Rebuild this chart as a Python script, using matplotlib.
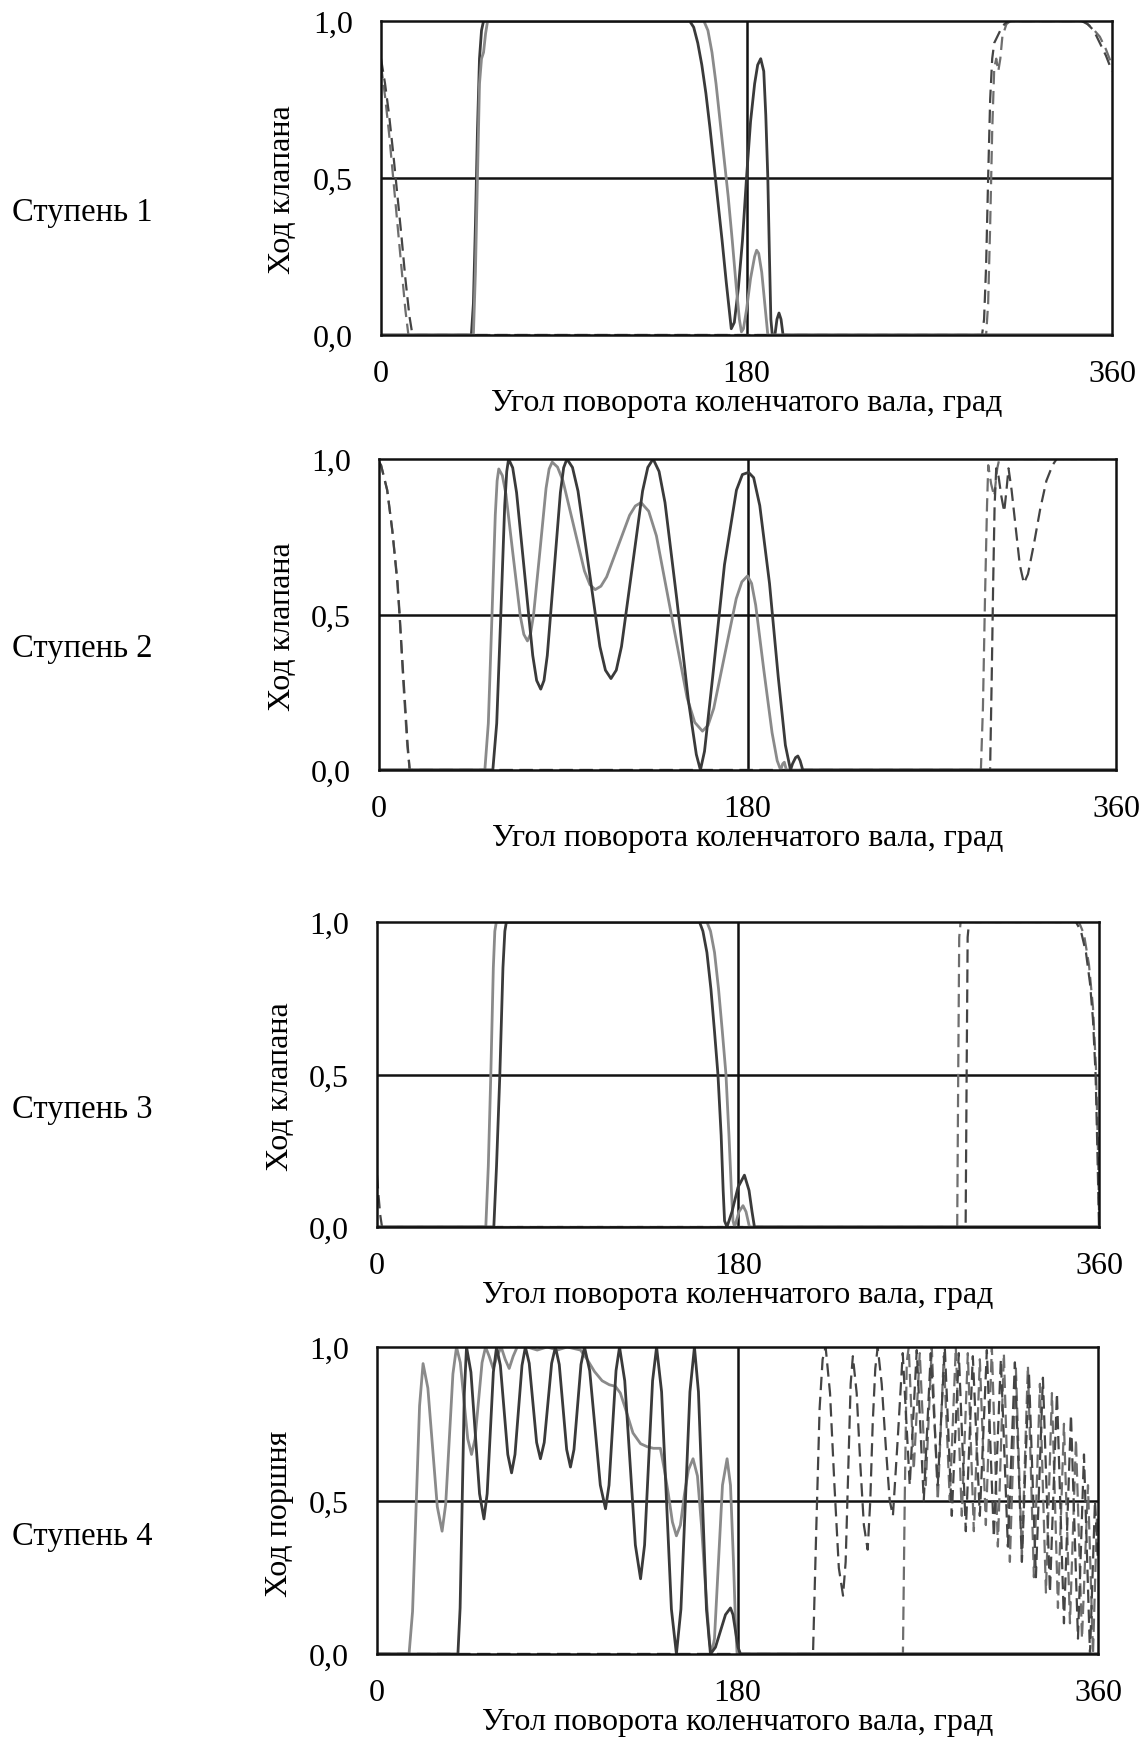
import matplotlib
matplotlib.use("Agg")
import matplotlib.pyplot as plt

plt.rcParams['font.family'] = ['Liberation Serif', 'DejaVu Serif']

W, H = 1145, 1740

#------------------------------- DATA (deg, lift 0..1) -------------------------------
stage_names = ["Ступень 1", "Ступень 2", "Ступень 3", "Ступень 4"]
y_names = ["Ход клапана", "Ход клапана", "Ход клапана", "Ход поршня"]
x_title = "Угол поворота коленчатого вала, град"
x_ticks = [0, 180, 360]
x_tick_labels = ["0", "180", "360"]
y_ticks = [0.0, 0.5, 1.0]
y_tick_labels = ["0,0", "0,5", "1,0"]

# stage 1
s1_dark_x = [0, 44.5, 45.5, 46.5, 47.5, 48.5, 49.5, 50.5, 152, 154, 156, 158, 160, 162, 164, 166, 168, 170,
             171.5, 172.5, 174, 176, 178, 180, 182, 184, 185.5, 187, 188.5, 189.5, 190.5, 191.3, 192, 192.7,
             194, 195, 196, 197, 198, 360]
s1_dark_y = [0, 0, 0.1, 0.35, 0.65, 0.88, 0.97, 1.0, 1.0, 0.98, 0.93, 0.86, 0.77, 0.66, 0.54, 0.42, 0.3, 0.17,
             0.08, 0.02, 0.04, 0.15, 0.3, 0.5, 0.68, 0.8, 0.86, 0.88, 0.84, 0.7, 0.5, 0.25, 0.05, 0,
             0, 0.05, 0.07, 0.05, 0, 0]
s1_gray_x = [0, 45.5, 46.5, 47.5, 48.5, 49.5, 50.5, 51.5, 52.5, 159, 161, 163, 165, 167, 169, 171, 173, 175,
             176.5, 177.5, 178.5, 180, 182, 184, 185, 186, 187.5, 189, 190.5, 360]
s1_gray_y = [0, 0, 0.2, 0.5, 0.8, 0.88, 0.9, 0.96, 1.0, 1.0, 0.97, 0.9, 0.8, 0.68, 0.56, 0.44, 0.3, 0.15,
             0.05, 0.01, 0.02, 0.08, 0.18, 0.25, 0.27, 0.26, 0.2, 0.1, 0, 0]
s1_dash_x = [0, 2, 4, 6, 8, 10, 12, 14, 15.5, 296, 297, 298, 299, 300, 301, 302, 303.5, 305, 307, 309, 345,
             348, 351, 354, 357, 360]
s1_dash_y = [0.88, 0.8, 0.7, 0.58, 0.45, 0.32, 0.18, 0.06, 0, 0, 0.05, 0.22, 0.5, 0.75, 0.88, 0.93, 0.95,
             0.97, 0.99, 1.0, 1.0, 0.99, 0.97, 0.93, 0.89, 0.84]
s1_dash2_x = [0, 2, 4, 6, 8, 10, 12, 13.5, 298, 299, 300, 301, 302, 303, 304, 305, 306, 308, 310, 346, 350,
              354, 357, 360]
s1_dash2_y = [0.86, 0.76, 0.64, 0.5, 0.36, 0.22, 0.08, 0, 0, 0.1, 0.35, 0.65, 0.85, 0.88, 0.84, 0.88, 0.95,
              0.99, 1.0, 1.0, 0.98, 0.95, 0.91, 0.86]

# stage 2
s2_dark_x = [0, 55.6, 57.5, 59.5, 61.4, 62.4, 63.3, 65.3, 67.2, 71.15, 75.1, 77.0, 79, 80.6, 82.2, 85.4, 88.6,
             90.2, 91.8, 94.5, 97.2, 102.55, 107.9, 110.6, 113.3, 115.9, 118.45, 123.6, 128.75, 131.3, 133.9,
             136.8, 139.7, 145.45, 151.2, 155, 157, 159, 163, 168.75, 174.6, 177.5, 180.5, 183, 186, 190.75,
             195, 198.5, 201, 202, 203.5, 204.6, 205.7, 207, 360]
s2_dark_y = [0, 0, 0.15, 0.5, 0.85, 0.96, 1.0, 0.972, 0.892, 0.63, 0.368, 0.288, 0.26, 0.288, 0.368, 0.63, 0.892,
             0.972, 1.0, 0.973, 0.897, 0.647, 0.397, 0.321, 0.294, 0.321, 0.397, 0.647, 0.897, 0.973, 1.0,
             0.96, 0.86, 0.55, 0.22, 0.05, 0, 0.06, 0.3, 0.66, 0.9, 0.95, 0.957, 0.94, 0.85, 0.6,
             0.3, 0.08, 0, 0.02, 0.04, 0.045, 0.03, 0, 0]
s2_gray_x = [0, 51.7, 53.4, 55.1, 56.8, 57.7, 58.5, 60.25, 62, 65.5, 69, 70.75, 72.5, 74.0, 75.5, 78.55, 81.6,
             83.1, 84.6, 87.2, 89.85, 95.1, 100.35, 103, 105.6, 108.4, 111.2, 116.8, 122.4, 125.2, 128,
             131.75, 135.5, 143, 150.5, 154.25, 158, 160.75, 163.5, 169, 174.5, 177.25, 180, 182, 184, 188,
             192, 194.5, 196.2, 197.2, 198, 199, 360]
s2_gray_y = [0, 0, 0.15, 0.48, 0.82, 0.93, 0.968, 0.947, 0.887, 0.69, 0.496, 0.436, 0.415, 0.437, 0.499, 0.70,
             0.906, 0.968, 0.99, 0.974, 0.93, 0.785, 0.64, 0.596, 0.58, 0.591, 0.621, 0.72, 0.819, 0.849, 0.86,
             0.832, 0.753, 0.4925, 0.232, 0.153, 0.125, 0.144, 0.198, 0.3745, 0.551, 0.605, 0.624, 0.6, 0.53,
             0.32, 0.12, 0.03, 0, 0.02, 0.025, 0, 0]
s2_dash_x = [0, 1, 4, 6.5, 9, 10, 12, 14, 15, 298.5, 299.3, 300, 300.7, 301.5, 302.5, 304, 305.4, 306.5, 307.5,
             309, 311, 313, 315, 317, 320, 323, 326, 329, 331, 360]
s2_dash_y = [0.99, 0.98, 0.9, 0.77, 0.6, 0.5, 0.29, 0.08, 0, 0, 0.3, 0.6, 0.85, 0.97, 0.95, 0.88, 0.83, 0.9,
             0.97, 0.9, 0.78, 0.66, 0.6, 0.63, 0.73, 0.84, 0.93, 0.98, 1.0, 1.0]
s2_dash2_x = [0, 1, 4, 6.5, 9, 10.1, 11.8, 13.8, 15, 294, 295, 296, 297, 297.6, 299, 300.5, 302, 303, 360]
s2_dash2_y = [0.99, 0.98, 0.9, 0.77, 0.61, 0.5, 0.29, 0.08, 0, 0, 0.2, 0.55, 0.85, 0.98, 0.92, 0.88, 0.97, 1.0, 1.0]

# stage 3
s3_dark_x = [0, 58.25, 59.6, 61.25, 62.8, 63.75, 64.5, 160.8, 162.5, 164.5, 166.5, 168.3, 170, 171.6, 172.6,
             173.3, 174.5, 177, 180, 183.2, 185.5, 187, 188.2, 360]
s3_dark_y = [0, 0, 0.2, 0.5, 0.85, 0.97, 1.0, 1.0, 0.97, 0.9, 0.78, 0.64, 0.5, 0.3, 0.12,
             0.02, 0, 0.05, 0.13, 0.17, 0.12, 0.05, 0, 0]
s3_gray_x = [0, 54.25, 55.5, 56.75, 58, 58.75, 59.5, 164.5, 166.3, 168.3, 170.3, 172.2, 174, 175.5, 176.7,
             177.5, 178.3, 180.5, 182.5, 184, 185.7, 360]
s3_gray_y = [0, 0, 0.2, 0.5, 0.85, 0.97, 1.0, 1.0, 0.97, 0.9, 0.78, 0.64, 0.5, 0.3, 0.12,
             0.02, 0, 0.05, 0.07, 0.05, 0, 0]
s3_dash_x = [0, 0.8, 1.6, 2.5, 293.5, 294, 294.5, 295.2, 348.5, 351, 353.5, 355.5, 357, 358.3, 359.2, 360]
s3_dash_y = [0.17, 0.1, 0.04, 0, 0, 0.5, 0.95, 1.0, 1.0, 0.97, 0.9, 0.8, 0.68, 0.5, 0.25, 0.0]
s3_dash2_x = [0, 289.3, 289.8, 290.3, 291, 350, 352.5, 355, 357, 358.5, 359.5, 360]
s3_dash2_y = [0, 0, 0.5, 0.95, 1.0, 1.0, 0.96, 0.86, 0.72, 0.52, 0.25, 0.05]

# stage 4
s4_dark_x = [0, 40.4, 41.5, 42.55, 43.6, 44.7, 46.9, 49.05, 51.2, 53.4, 55.0, 56.55, 58.1, 59.7, 61.6, 63.45,
             65.3, 67.2, 68.9, 70.65, 72.4, 74.1, 76, 77.85, 79.7, 81.6, 83.5, 85.35, 87.2, 89.1, 91, 92.85,
             94.7, 96.6, 98.35, 100.1, 101.85, 103.6, 106.2, 108.85, 111.5, 114.1, 115.85, 117.6, 119.35,
             121.1, 123.7, 126.35, 129, 131.6, 133.6, 135.6, 137.6, 139.6, 142.1, 144.55, 147, 149.5, 151.75,
             154, 156.25, 158.5, 160.5, 162.5, 164.5, 166.5, 169, 171.5, 174, 176.5, 177.75, 179, 180.25,
             181.5, 360]
s4_dark_y = [0, 0, 0.15, 0.5, 0.85, 1.0, 0.918, 0.72, 0.522, 0.44, 0.522, 0.72, 0.918, 1.0, 0.94, 0.795,
             0.65, 0.59, 0.65, 0.795, 0.94, 1.0, 0.947, 0.818, 0.689, 0.636, 0.689, 0.818, 0.947, 1.0, 0.943, 0.805,
             0.666, 0.609, 0.666, 0.805, 0.943, 1.0, 0.923, 0.737, 0.55, 0.473, 0.55, 0.737, 0.923,
             1.0, 0.89, 0.623, 0.355, 0.245, 0.355, 0.623, 0.89, 1.0, 0.854, 0.5, 0.146, 0, 0.146,
             0.5, 0.854, 1.0, 0.854, 0.5, 0.146, 0, 0.022, 0.075, 0.128, 0.15, 0.128, 0.075, 0.022,
             0, 0]
s4_gray_x = [0, 16, 17.75, 19.5, 21.25, 23, 25.4, 27.75, 30.1, 32.5, 34.3, 36.1, 37.9, 39.7, 41.6, 43.45, 45.3,
             47.2, 48.95, 50.7, 52.45, 54.2, 56, 58, 60, 62, 64, 66, 68, 70, 75, 80, 85, 90, 95, 101.6, 104.9,
             108.6, 112.4, 116, 119, 121.5, 124, 127.8, 131.6, 135, 138, 141.5, 143.5, 145.5, 147.5, 149.5,
             151.5, 153.5, 155.5, 157.8, 160, 162, 164, 166, 167, 168.5, 170.5, 172.5, 174.8, 176.5, 178,
             179, 179.8, 360]
s4_gray_y = [0, 0, 0.138, 0.473, 0.808, 0.946, 0.866, 0.673, 0.48, 0.40, 0.488, 0.70, 0.912, 1.0, 0.949, 0.825,
             0.701, 0.65, 0.701, 0.825, 0.949, 1.0, 0.97, 0.93, 0.97, 1.0, 0.96, 0.93, 0.97, 1.0, 1.0, 0.99, 1.0,
             0.99, 1.0, 0.99, 0.96, 0.92, 0.89, 0.877, 0.872, 0.85, 0.8, 0.72, 0.685, 0.675, 0.67, 0.67, 0.6,
             0.52, 0.43, 0.385, 0.42, 0.52, 0.6, 0.636, 0.58, 0.42, 0.22, 0.04, 0.0, 0.05, 0.3, 0.55, 0.636,
             0.55, 0.3, 0.1, 0, 0]
s4_dash_x = [0, 217.7, 219.3, 221, 222.5, 224, 226.2, 228.4, 230.6, 232.7, 234, 235.3, 236.5, 237.6, 239.5,
             241.3, 243.1, 245, 246.3, 247.5, 248.8, 250, 252, 254, 256, 257.6, 260, 262.5, 266, 269.5, 273,
             276.5, 280, 283.5, 287, 290.5, 294, 297.5, 301, 304.5, 308, 311.5, 315, 318.5, 322, 325.5, 329,
             332.5, 336, 339.5, 343, 346.5, 350, 353, 356, 358.5, 360]
s4_dash_y = [0, 0, 0.4, 0.8, 0.96, 1.0, 0.85, 0.55, 0.28, 0.19, 0.3, 0.6, 0.88, 0.97, 0.85,
             0.62, 0.42, 0.34, 0.5, 0.75, 0.93, 1.0, 0.88, 0.68, 0.5, 0.45, 0.7, 0.98, 0.55, 0.99, 0.5,
             0.98, 0.55, 1.0, 0.45, 0.98, 0.4, 0.97, 0.45, 0.99, 0.38, 0.96, 0.35, 0.95, 0.3, 0.92, 0.25,
             0.9, 0.2, 0.85, 0.1, 0.78, 0.05, 0.65, 0.0, 0.5, 0.3]
s4_dash2_x = [0, 262.6, 263.5, 264.5, 265.5, 268, 271, 274, 277, 280, 283, 286, 289, 292, 295, 298, 301, 304,
              307, 310, 313, 316, 319, 322, 325, 328, 331, 334, 337, 340, 343, 346, 349, 352, 355, 357.5,
              359.5, 360]
s4_dash2_y = [0, 0, 0.5, 0.95, 1.0, 0.6, 0.98, 0.55, 1.0, 0.5, 0.97, 0.5, 1.0, 0.45, 0.98, 0.4, 0.96, 0.42,
              1.0, 0.35, 0.98, 0.3, 0.93, 0.32, 0.94, 0.25, 0.88, 0.2, 0.85, 0.15, 0.75, 0.1, 0.7, 0.05, 0.55, 0.0,
              0.45, 0.4]

#------------------------------- LAYOUT (pixels) -------------------------------------
# left, top, right, bottom of each plot frame
boxes = [(381, 22, 1112, 336), (379, 460, 1116, 771), (377, 923, 1099, 1228), (377, 1348, 1098, 1655)]
stage_y = [213, 649, 1110, 1537]
ylab_pos = [(283, 190), (283, 627), (280, 1087), (280, 1514)]
xlab_y = [403, 839, 1296, 1723]
gray_on_top = [True, False, False, False]

series = [
    (s1_dark_x, s1_dark_y, s1_gray_x, s1_gray_y, s1_dash_x, s1_dash_y, s1_dash2_x, s1_dash2_y),
    (s2_dark_x, s2_dark_y, s2_gray_x, s2_gray_y, s2_dash_x, s2_dash_y, s2_dash2_x, s2_dash2_y),
    (s3_dark_x, s3_dark_y, s3_gray_x, s3_gray_y, s3_dash_x, s3_dash_y, s3_dash2_x, s3_dash2_y),
    (s4_dark_x, s4_dark_y, s4_gray_x, s4_gray_y, s4_dash_x, s4_dash_y, s4_dash2_x, s4_dash2_y),
]

DARK = '#3a3a3a'
GRAY = '#8a8a8a'
FS = 23

fig = plt.figure(figsize=(W / 100, H / 100), dpi=100)
fig.patch.set_facecolor('white')

for i, (l, t, r, b) in enumerate(boxes):
    ax = fig.add_axes([l / W, 1 - b / H, (r - l) / W, (b - t) / H])
    dx, dy, gx, gy, ddx, ddy, d2x, d2y = series[i]

    # reference lines
    ax.axhline(0.5, color='#111111', lw=1.8, zorder=1)
    ax.axvline(180, color='#111111', lw=1.8, zorder=1)

    # discharge (dashed) and suction (solid) valves
    ax.plot(d2x, d2y, color='#6e6e6e', lw=1.6, ls=(0, (6, 3)), zorder=2)
    ax.plot(ddx, ddy, color='#444444', lw=1.6, ls=(0, (6, 3)), zorder=2)
    gz = 4.5 if gray_on_top[i] else 3
    ax.plot(gx, gy, color=GRAY, lw=2.0, zorder=gz, solid_joinstyle='round')
    ax.plot(dx, dy, color=DARK, lw=2.0, zorder=4, solid_joinstyle='round')

    ax.set_xlim(0, 360)
    ax.set_ylim(0, 1)
    ax.set_xticks(x_ticks)
    ax.set_xticklabels(x_tick_labels)
    ax.set_yticks(y_ticks)
    ax.set_yticklabels(y_tick_labels)
    ax.tick_params(axis='x', length=0, pad=17, labelsize=FS)
    ax.tick_params(axis='y', length=0, pad=20, labelsize=FS)
    for sp in ax.spines.values():
        sp.set_linewidth(1.8)
        sp.set_color('#111111')
        sp.set_zorder(5)

    fig.text(12 / W, 1 - stage_y[i] / H, stage_names[i], fontsize=FS + 0.5, va='center', ha='left')
    fig.text(ylab_pos[i][0] / W, 1 - ylab_pos[i][1] / H, y_names[i], fontsize=FS,
             rotation=90, va='center', ha='center')
    fig.text((l + r) / 2 / W, 1 - xlab_y[i] / H, x_title, fontsize=FS, va='center', ha='center')

fig.savefig('out.png', dpi=100, facecolor='white')
